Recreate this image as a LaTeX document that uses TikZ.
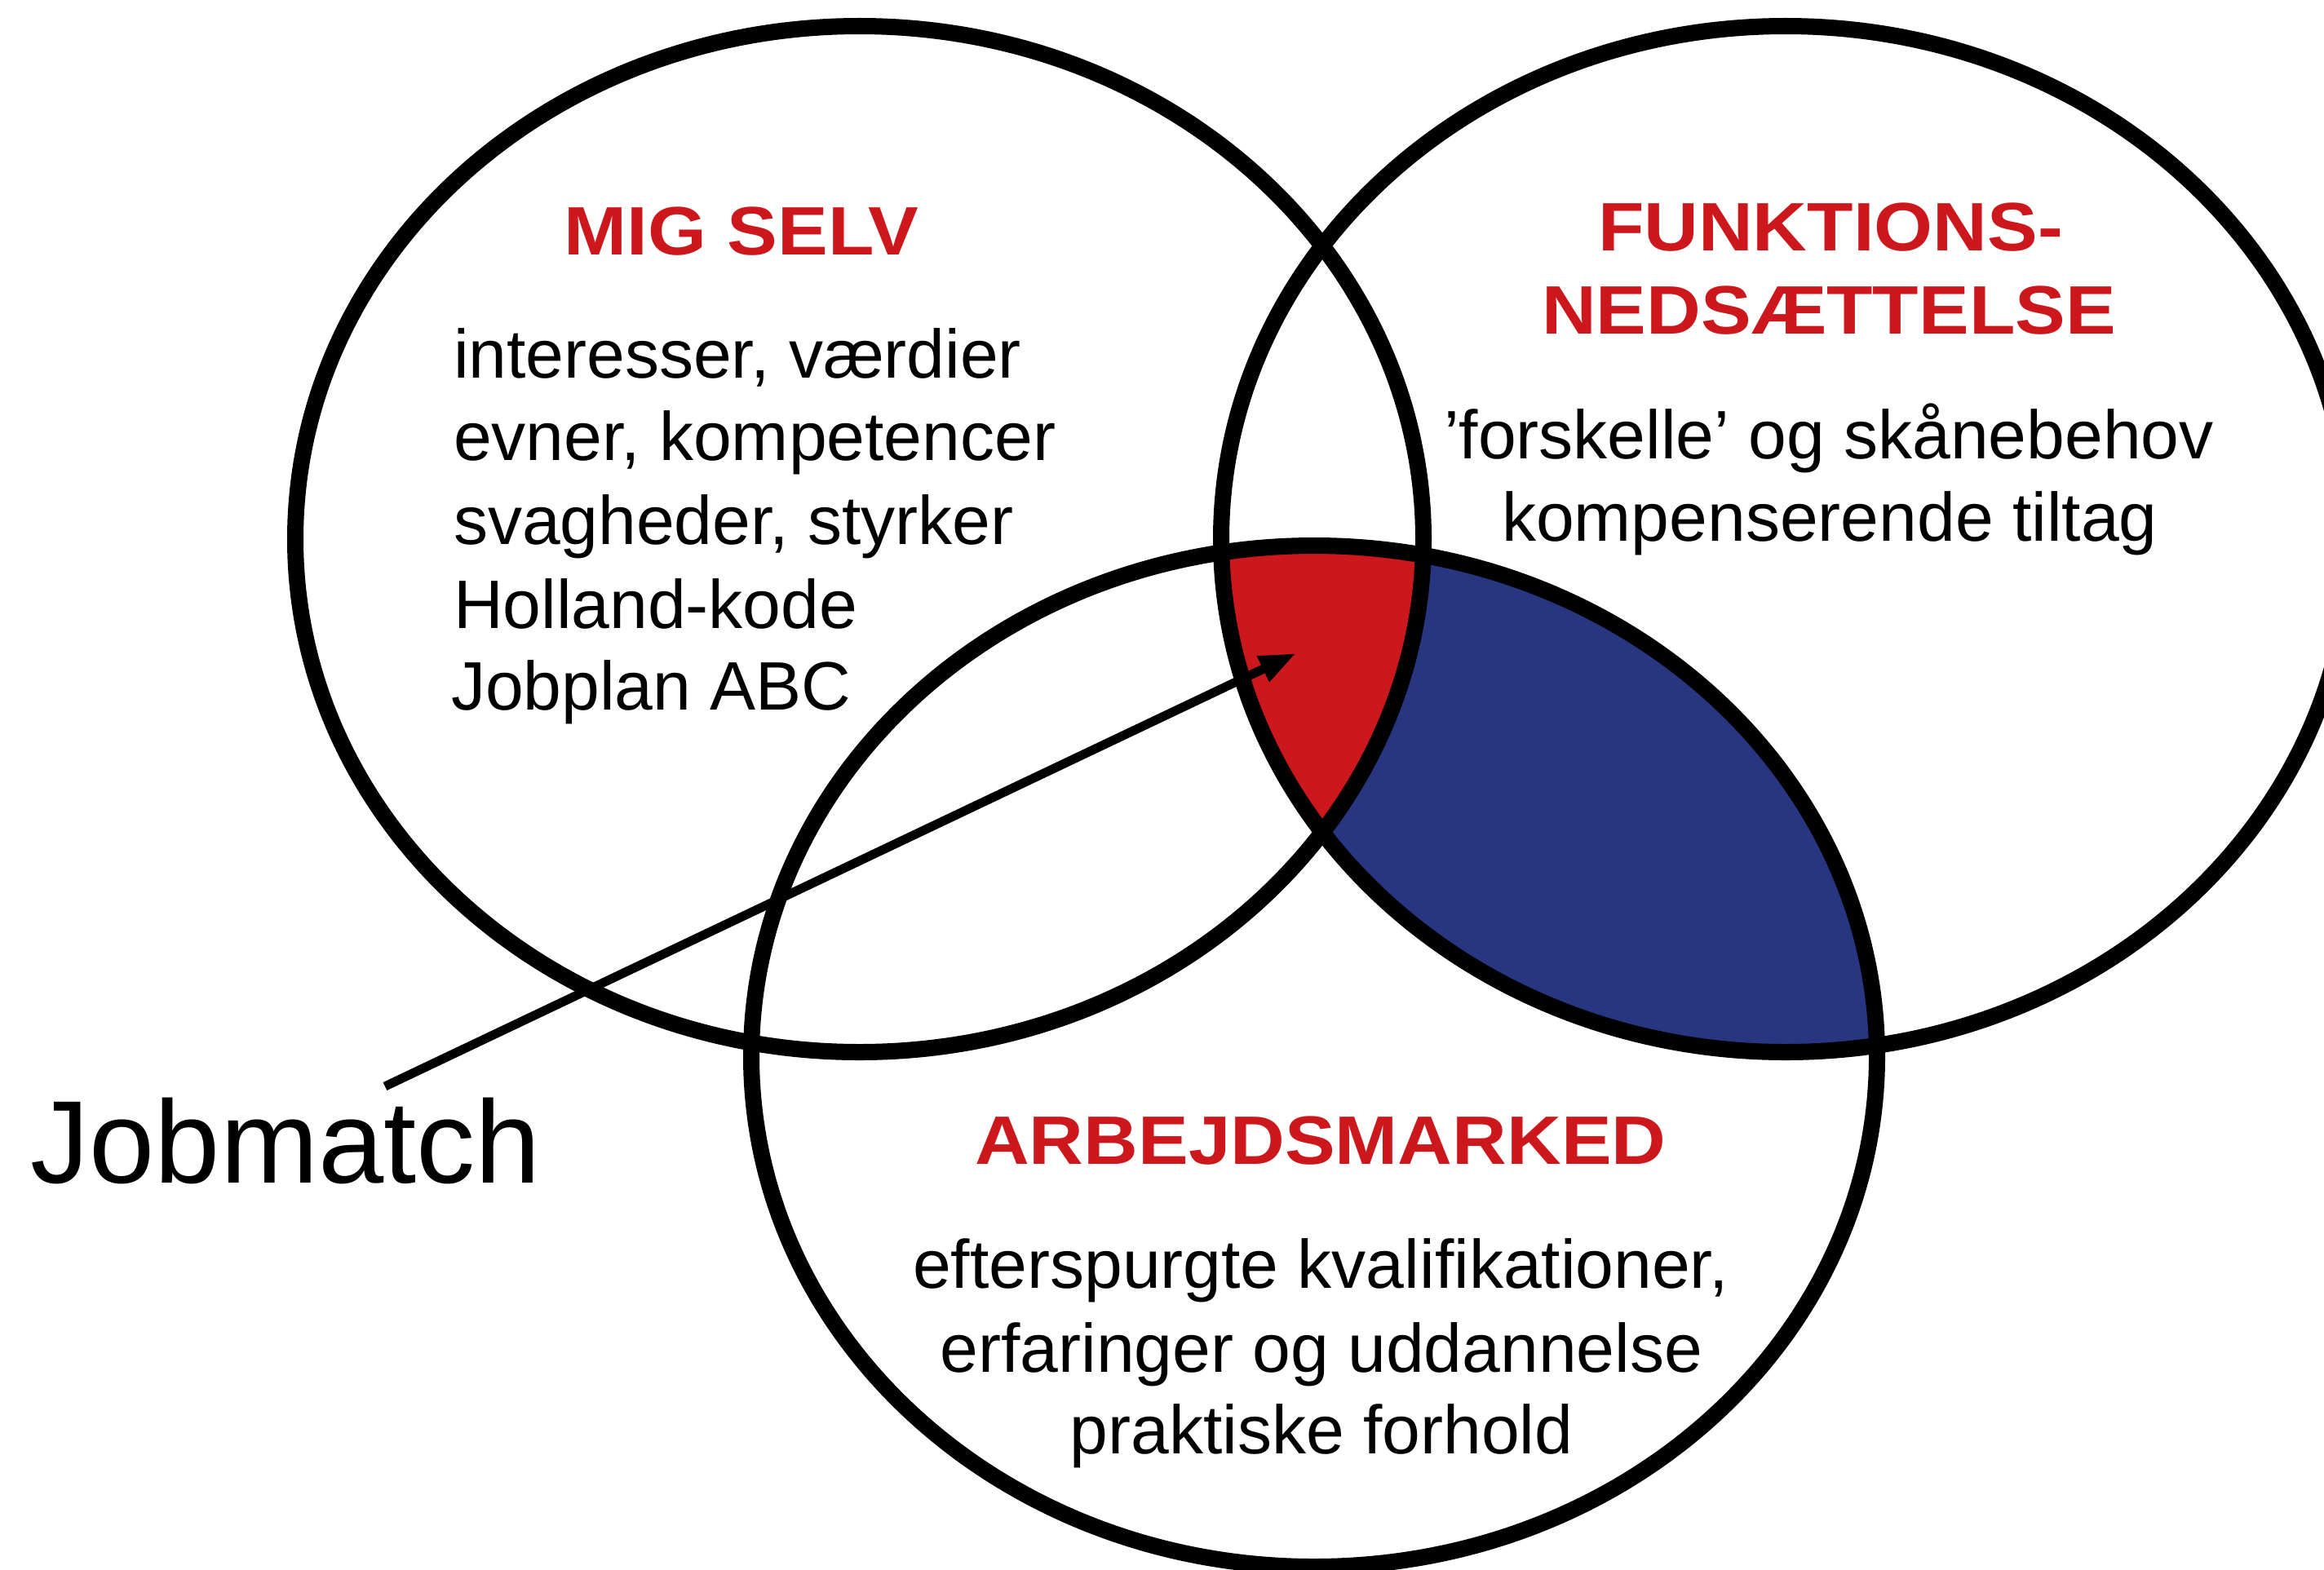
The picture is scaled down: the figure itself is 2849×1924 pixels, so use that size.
\documentclass[tikz,border=0pt]{standalone}
\usepackage{fontspec}
\setmainfont{Liberation Sans}
\newfontfamily\titlefont{Liberation Sans}[FakeStretch=1.1]
\usetikzlibrary{arrows.meta}
\definecolor{tred}{RGB}{204,24,28}
\definecolor{tblue}{RGB}{40,54,130}
\tikzset{
  body/.style={inner sep=0pt, outer sep=0pt, font=\fontsize{23.9}{29}\selectfont},
  ttl/.style={inner sep=0pt, outer sep=0pt, text=tred, font=\titlefont\bfseries\fontsize{23.9}{29}\selectfont},
  ring/.style={line width=0.2cm, draw=black},
  pointer/.style={line width=0.11cm, -{Triangle[length=0.45cm,width=0.32cm]}}
}
\begin{document}
\begin{tikzpicture}[x=0.01cm,y=-0.01cm]
\useasboundingbox (0,0) rectangle (2849,1924);
% fills
\begin{scope}
  \clip (2189,661) ellipse [x radius=692, y radius=629];
  \fill[tblue] (1611,1295) ellipse [x radius=690, y radius=626];
\end{scope}
\begin{scope}
  \clip (1053.5,661) ellipse [x radius=691.5, y radius=629];
  \clip (2189,661) ellipse [x radius=692, y radius=629];
  \fill[tred] (1611,1295) ellipse [x radius=690, y radius=626];
\end{scope}
% rings
\draw[ring] (1053.5,661) ellipse [x radius=691.5, y radius=629];
\draw[ring] (2189,661) ellipse [x radius=692, y radius=629];
\draw[ring] (1611,1295) ellipse [x radius=690, y radius=626];
% left texts
\node[ttl, anchor=base] (migselv) at (909,312) {MIG SELV};
\node[body, anchor=base west] (l1) at (556,463) {interesser, værdier};
\node[body, anchor=base west] (l2) at (556,564) {evner, kompetencer};
\node[body, anchor=base west] (l3) at (556,667) {svagheder, styrker};
\node[body, anchor=base west] (l4) at (556,770) {Holland-kode};
\node[body, anchor=base west] (l5) at (553,870) {Jobplan ABC};
% right texts
\node[ttl, anchor=base] (funk1) at (2244,307) {FUNKTIONS-};
\node[ttl, anchor=base] (funk2) at (2242,409) {NEDSÆTTELSE};
\node[body, anchor=base] (r1) at (2242,562) {’forskelle’ og skånebehov};
\node[body, anchor=base] (r2) at (2243,663) {kompenserende tiltag};
% bottom texts
\node[ttl, anchor=base] (arb) at (1619,1427) {ARBEJDSMARKED};
\node[body, anchor=base] (b1) at (1619,1579) {efterspurgte kvalifikationer,};
\node[body, anchor=base] (b2) at (1620,1682) {erfaringer og uddannelse};
\node[body, anchor=base] (b3) at (1620,1782) {praktiske forhold};
% jobmatch
\node[inner sep=0pt, anchor=base west, font=\fontsize{41}{48}\selectfont] (jobmatch) at (37,1450) {Jobmatch};
\coordinate (jmtail) at (472,1332);
\coordinate (jmtip) at (1589,801);
\draw[pointer] (jmtail) -- (jmtip);
\end{tikzpicture}
\end{document}
